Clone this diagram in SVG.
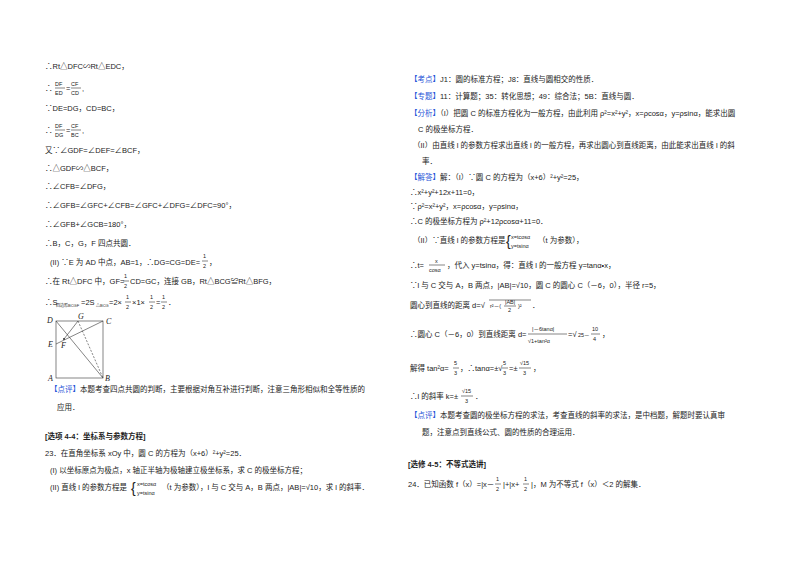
<svg xmlns="http://www.w3.org/2000/svg" width="800" height="565" viewBox="0 0 800 565">
<style>
text{font-family:"Liberation Sans","Noto Sans CJK SC",sans-serif;font-size:7.5px;fill:#222}
.b{fill:#1f55d8}.h{font-weight:bold}.s{font-size:5.5px}.i{font-family:"Liberation Serif","Noto Sans CJK SC",serif;font-style:italic;font-size:8px}
line{stroke:#333;stroke-width:0.6}
</style>
<rect width="800" height="565" fill="#fff"/>
<g id="left">
<text x="45" y="69">∴Rt△DFC∽Rt△EDC，</text>
<text x="45" y="91">∴</text><text x="55" y="86" class="s">DF</text><line x1="55" y1="88" x2="65" y2="88"/><text x="55" y="95" class="s">ED</text><text x="66" y="91">=</text><text x="71" y="86" class="s">CF</text><line x1="71" y1="88" x2="81" y2="88"/><text x="71" y="95" class="s">CD</text><text x="82" y="91">,</text>
<text x="45" y="111">∵DE=DG，CD=BC，</text>
<text x="45" y="133">∴</text><text x="55" y="128" class="s">DF</text><line x1="55" y1="130" x2="65" y2="130"/><text x="55" y="137" class="s">DG</text><text x="66" y="133">=</text><text x="71" y="128" class="s">CF</text><line x1="71" y1="130" x2="81" y2="130"/><text x="71" y="137" class="s">BC</text><text x="82" y="133">,</text>
<text x="45" y="153">又∵∠GDF=∠DEF=∠BCF，</text>
<text x="45" y="171">∴△GDF∽△BCF，</text>
<text x="45" y="189">∴∠CFB=∠DFG，</text>
<text x="45" y="208">∴∠GFB=∠GFC+∠CFB=∠GFC+∠DFG=∠DFC=90°，</text>
<text x="45" y="227">∴∠GFB+∠GCB=180°，</text>
<text x="45" y="246">∴B，C，G，F 四点共圆．</text>
<text x="50" y="265">(II) ∵E 为 AD 中点，AB=1，∴DG=CG=DE=</text><text x="203" y="258" class="s">1</text><line x1="202" y1="261" x2="208" y2="261"/><text x="203" y="268" class="s">2</text><text x="209" y="265">，</text>
<text x="45" y="284">∴在 Rt△DFC 中，GF=</text><text x="124" y="278" class="s">1</text><line x1="123" y1="281" x2="129" y2="281"/><text x="124" y="288" class="s">2</text><text x="130" y="284">CD=GC，连接 GB，Rt△BCG≌Rt△BFG，</text>
<text x="45" y="305">∴S</text><text x="56" y="307" style="font-size:4px">四边形BCGF</text><text x="81" y="305">=2S</text><text x="96" y="307" style="font-size:4px">△BCG</text><text x="109" y="305">=2×</text><text x="126" y="299" class="s">1</text><line x1="125" y1="302" x2="131" y2="302"/><text x="126" y="309" class="s">2</text><text x="132" y="305">×1×</text><text x="150" y="299" class="s">1</text><line x1="149" y1="302" x2="155" y2="302"/><text x="150" y="309" class="s">2</text><text x="156" y="305">=</text><text x="162" y="299" class="s">1</text><line x1="161" y1="302" x2="167" y2="302"/><text x="162" y="309" class="s">2</text><text x="168" y="305">．</text>
</g>
<g id="figure">
<rect x="56" y="321" width="47" height="57" fill="none" stroke="#333" stroke-width="0.6"/>
<line x1="56" y1="321" x2="103" y2="378"/>
<line x1="56" y1="344" x2="103" y2="321"/>
<line x1="78" y1="321" x2="64" y2="339"/>
<line x1="78" y1="321" x2="103" y2="378" stroke-dasharray="2,1.5"/>
<circle cx="64" cy="339" r="1" fill="#333"/>
<text x="47" y="323" class="i">D</text><text x="78" y="319" class="i">G</text><text x="106" y="324" class="i">C</text>
<text x="48" y="347" class="i">E</text><text x="61" y="348" class="i">F</text>
<text x="48" y="381" class="i">A</text><text x="105" y="381" class="i">B</text>
</g>
<g id="left2">
<text x="50" y="392"><tspan class="b">【点评】</tspan>本题考查四点共圆的判断，主要根据对角互补进行判断，注意三角形相似和全等性质的</text>
<text x="57" y="410">应用．</text>
<text x="45" y="439" class="h">[选项 4-4：坐标系与参数方程]</text>
<text x="45" y="456">23．在直角坐标系 xOy 中，圆 C 的方程为（x+6）²+y²=25．</text>
<text x="50" y="473">(I) 以坐标原点为极点，x 轴正半轴为极轴建立极坐标系，求 C 的极坐标方程；</text>
<text x="50" y="490">(II) 直线 l 的参数方程是</text><text x="131" y="493" style="font-size:14px">{</text><text x="137" y="486" class="s">x=tcosα</text><text x="137" y="495" class="s">y=tsinα</text><text x="162" y="490">（t 为参数），l 与 C 交与 A，B 两点，|AB|=√10，求 l 的斜率．</text>
</g>
<g id="right">
<text x="410" y="82"><tspan class="b">【考点】</tspan>J1：圆的标准方程；J8：直线与圆相交的性质．</text>
<text x="410" y="99"><tspan class="b">【专题】</tspan>11：计算题；35：转化思想；49：综合法；5B：直线与圆．</text>
<text x="410" y="116"><tspan class="b">【分析】</tspan>（I）把圆 C 的标准方程化为一般方程，由此利用 ρ²=x²+y²，x=ρcosα，y=ρsinα，能求出圆</text>
<text x="418" y="132">C 的极坐标方程．</text>
<text x="413" y="148">（II）由直线 l 的参数方程求出直线 l 的一般方程，再求出圆心到直线距离，由此能求出直线 l 的斜</text>
<text x="422" y="164">率．</text>
<text x="410" y="180"><tspan class="b">【解答】</tspan>解：（I）∵圆 C 的方程为（x+6）²+y²=25，</text>
<text x="410" y="195">∴x²+y²+12x+11=0，</text>
<text x="410" y="209">∵ρ²=x²+y²，x=ρcosα，y=ρsinα，</text>
<text x="410" y="224">∴C 的极坐标方程为 ρ²+12ρcosα+11=0．</text>
<text x="413" y="243">（II）∵直线 l 的参数方程是</text><text x="506" y="246" style="font-size:14px">{</text><text x="511" y="239" class="s">x=tcosα</text><text x="511" y="248" class="s">y=tsinα</text><text x="538" y="243">（t 为参数），</text>
<text x="410" y="268">∴t=</text><text x="435" y="263" class="s">x</text><line x1="429" y1="265" x2="445" y2="265"/><text x="429" y="272" class="s">cosα</text><text x="447" y="268">，代入 y=tsinα，得：直线 l 的一般方程 y=tanα•x，</text>
<text x="410" y="288">∵l 与 C 交与 A，B 两点，|AB|=√10，圆 C 的圆心 C（－6，0），半径 r=5，</text>
<text x="410" y="308">圆心到直线的距离 d=√</text><line x1="489" y1="300" x2="531" y2="300"/><text x="490" y="308" class="s">r²－(</text><text x="505" y="304" class="s">|AB|</text><line x1="504" y1="306" x2="516" y2="306"/><text x="508" y="312" class="s">2</text><text x="518" y="308" class="s">)²</text><text x="532" y="308">．</text>
<text x="410" y="337">∴圆心 C（－6，0）到直线距离 d=</text><text x="532" y="331" class="s">|－6tanα|</text><line x1="528" y1="334" x2="567" y2="334"/><text x="528" y="343" class="s">√1+tan²α</text><text x="568" y="337">=√</text><text x="578" y="337" class="s">25－</text><text x="592" y="331" class="s">10</text><line x1="591" y1="334" x2="600" y2="334"/><text x="593" y="341" class="s">4</text><text x="602" y="337">，</text>
<text x="410" y="371">解得 tan²α=</text><text x="454" y="365" class="s">5</text><line x1="453" y1="368" x2="459" y2="368"/><text x="454" y="375" class="s">3</text><text x="460" y="371">，∴tanα=±√</text><text x="503" y="365" class="s">5</text><line x1="502" y1="368" x2="508" y2="368"/><text x="503" y="375" class="s">3</text><text x="509" y="371">=±</text><text x="520" y="365" class="s">√15</text><line x1="519" y1="368" x2="531" y2="368"/><text x="523" y="375" class="s">3</text><text x="533" y="371">，</text>
<text x="410" y="399">∴l 的斜率 k=±</text><text x="462" y="393" class="s">√15</text><line x1="461" y1="396" x2="473" y2="396"/><text x="465" y="403" class="s">3</text><text x="475" y="399">．</text>
<text x="410" y="418"><tspan class="b">【点评】</tspan>本题考查圆的极坐标方程的求法，考查直线的斜率的求法，是中档题，解题时要认真审</text>
<text x="422" y="435">题，注意点到直线公式、圆的性质的合理运用．</text>
<text x="408" y="467" class="h">[选修 4-5：不等式选讲]</text>
<text x="408" y="487">24．已知函数 f（x）=|x－</text><text x="496" y="481" class="s">1</text><line x1="495" y1="484" x2="501" y2="484"/><text x="496" y="491" class="s">2</text><text x="503" y="487">|+|x+</text><text x="524" y="481" class="s">1</text><line x1="523" y1="484" x2="529" y2="484"/><text x="524" y="491" class="s">2</text><text x="531" y="487">|，M 为不等式 f（x）＜2 的解集．</text>
</g>
</svg>
